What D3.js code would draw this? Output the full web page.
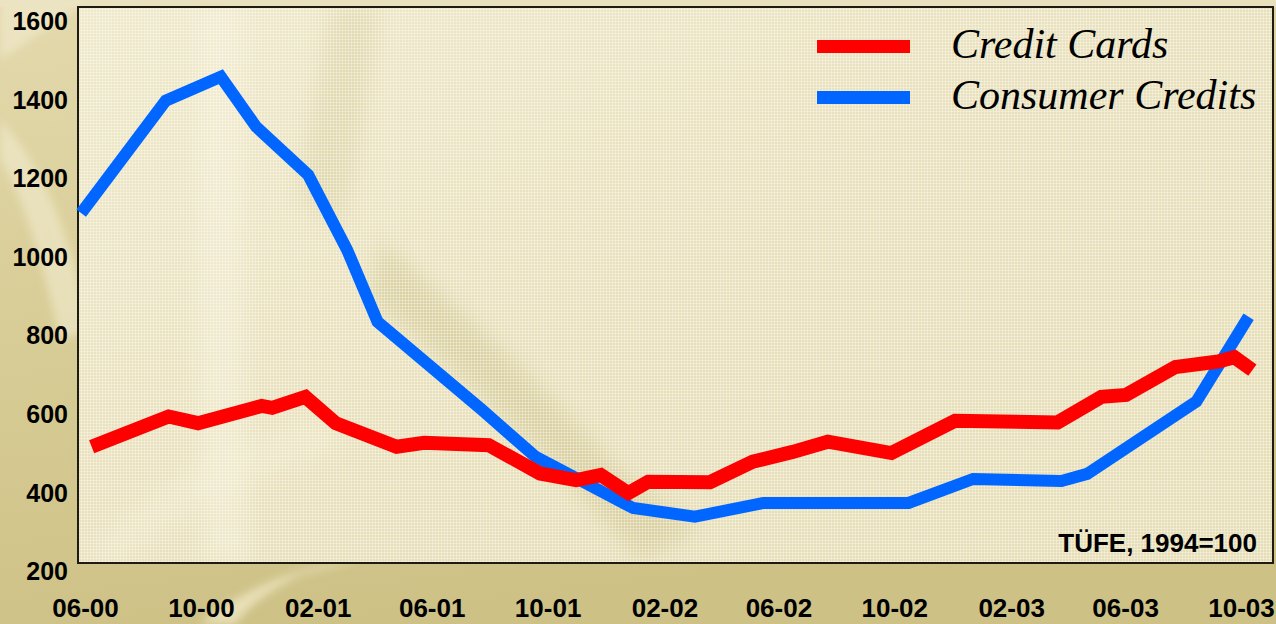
<!DOCTYPE html>
<html>
<head>
<meta charset="utf-8">
<script src="https://cdn.jsdelivr.net/npm/d3@7"></script>
<style>
  html, body { margin: 0; padding: 0; background: #d6cb95; }
  svg { display: block; }
</style>
</head>
<body>
<svg id="chart" width="1276" height="624"></svg>
<script>
// ---------------- DATA ----------------
const seriesNames = ["Credit Cards", "Consumer Credits"];

const creditCardDates = [
  "2000-06-08","2000-08-28","2000-09-28","2000-12-04","2000-12-15","2001-01-19",
  "2001-02-20","2001-04-25","2001-05-24","2001-07-31","2001-09-23","2001-10-31",
  "2001-11-26","2001-12-25","2002-01-15","2002-03-21","2002-05-05","2002-06-16",
  "2002-07-23","2002-09-28","2002-12-04","2003-03-22","2003-05-07","2003-06-02",
  "2003-07-24","2003-09-07","2003-09-24","2003-10-13"
];
const creditCardValues = [
  518, 595, 578, 622, 617, 645,
  578, 518, 528, 522, 450, 433,
  446, 400, 429, 428, 480, 505,
  531, 502, 584, 580, 645, 650,
  721, 735, 746, 713
];

const consumerCreditDates = [
  "2000-05-28","2000-08-25","2000-10-22","2000-11-28","2001-01-22","2001-03-04",
  "2001-04-05","2001-07-24","2001-09-18","2001-12-30","2002-03-05","2002-05-16",
  "2002-10-16","2002-12-23","2003-03-26","2003-04-22","2003-08-15","2003-10-09"
];
const consumerCreditValues = [
  1113, 1399, 1460, 1333, 1210, 1019,
  836, 612, 493, 362, 340, 375,
  375, 436, 431, 449, 633, 849
];

const yTickValues = [200, 400, 600, 800, 1000, 1200, 1400, 1600];
const xTickDates = ["2000-06-01","2000-10-01","2001-02-01","2001-06-01","2001-10-01",
  "2002-02-01","2002-06-01","2002-10-01","2003-02-01","2003-06-01","2003-10-01"];
const xTickLabels = ["06-00","10-00","02-01","06-01","10-01","02-02","06-02","10-02","02-03","06-03","10-03"];
const noteText = "TÜFE, 1994=100";

// ---------------- LAYOUT ----------------
const W = 1276, H = 624;
const frame = { x0: 78, y0: 7, x1: 1273, y1: 563 };
const parse = d3.timeParse("%Y-%m-%d");

const x = d3.scaleTime()
  .domain([parse("2000-06-01"), parse("2003-10-01")])
  .range([85, 1241]);
const y = d3.scaleLinear()
  .domain([200, 1600])
  .range([571.7, 21.7]);

const svg = d3.select("#chart");
const defs = svg.append("defs");

// background gradient
const bg = defs.append("linearGradient").attr("id", "bgGrad")
  .attr("x1", 0).attr("y1", 0).attr("x2", 0.25).attr("y2", 1);
bg.append("stop").attr("offset", "0%").attr("stop-color", "#e3d9ad");
bg.append("stop").attr("offset", "45%").attr("stop-color", "#d9ce98");
bg.append("stop").attr("offset", "100%").attr("stop-color", "#cdc186");

const pg = defs.append("linearGradient").attr("id", "plotGrad")
  .attr("x1", 0).attr("y1", 0).attr("x2", 1).attr("y2", 1);
pg.append("stop").attr("offset", "0%").attr("stop-color", "#efe8c9");
pg.append("stop").attr("offset", "50%").attr("stop-color", "#e8e0bb");
pg.append("stop").attr("offset", "100%").attr("stop-color", "#e6ddb6");

// fine grid texture
const pat = defs.append("pattern").attr("id", "grid")
  .attr("width", 3).attr("height", 3).attr("patternUnits", "userSpaceOnUse");
pat.append("rect").attr("x", 0).attr("y", 0).attr("width", 3).attr("height", 1)
  .attr("fill", "#ffffff").attr("opacity", 0.32);
pat.append("rect").attr("x", 0).attr("y", 0).attr("width", 1).attr("height", 3)
  .attr("fill", "#ffffff").attr("opacity", 0.32);

const blur = defs.append("filter").attr("id", "blur")
  .attr("x", "-20%").attr("y", "-20%").attr("width", "140%").attr("height", "140%");
blur.append("feGaussianBlur").attr("stdDeviation", 10);
const blur2 = defs.append("filter").attr("id", "blur2")
  .attr("x", "-20%").attr("y", "-20%").attr("width", "140%").attr("height", "140%");
blur2.append("feGaussianBlur").attr("stdDeviation", 4);

defs.append("clipPath").attr("id", "plotClip")
  .append("rect").attr("x", frame.x0).attr("y", frame.y0)
  .attr("width", frame.x1 - frame.x0).attr("height", frame.y1 - frame.y0);

// outer background
svg.append("rect").attr("width", W).attr("height", H).attr("fill", "url(#bgGrad)");
const deco = svg.append("g");
deco.append("path").attr("d", "M0,120 C40,160 70,230 90,330 L60,340 C40,250 20,190 0,160 Z")
  .attr("fill", "#f2ecd0").attr("opacity", 0.6).attr("filter", "url(#blur2)");
deco.append("path").attr("d", "M0,0 L90,0 C60,20 30,40 0,60 Z")
  .attr("fill", "#f0e9cb").attr("opacity", 0.7).attr("filter", "url(#blur2)");
deco.append("path").attr("d", "M200,624 C240,590 300,565 360,560 L300,575 C270,590 250,605 235,624 Z")
  .attr("fill", "#efe7c4").attr("opacity", 0.8).attr("filter", "url(#blur2)");
svg.append("rect").attr("x", 0).attr("y", 0).attr("width", W).attr("height", 7)
  .attr("fill", "#ebe4c3").attr("opacity", 0.8);

// plot area
const plotBg = svg.append("g").attr("clip-path", "url(#plotClip)");
plotBg.append("rect").attr("x", frame.x0).attr("y", frame.y0)
  .attr("width", frame.x1 - frame.x0).attr("height", frame.y1 - frame.y0)
  .attr("fill", "url(#plotGrad)");
plotBg.append("path")
  .attr("d", "M330,7 C320,80 300,150 300,200 L340,230 C360,160 370,80 380,7 Z")
  .attr("fill", "#cfc48d").attr("opacity", 0.35).attr("filter", "url(#blur)");
plotBg.append("path")
  .attr("d", "M380,240 C450,300 540,380 620,470 L700,530 L640,560 C560,470 470,380 370,300 Z")
  .attr("fill", "#c9bd82").attr("opacity", 0.45).attr("filter", "url(#blur)");
plotBg.append("path")
  .attr("d", "M200,7 L240,7 C245,200 240,380 250,563 L205,563 C195,380 200,200 200,7 Z")
  .attr("fill", "#f6f1da").attr("opacity", 0.45).attr("filter", "url(#blur)");
plotBg.append("path")
  .attr("d", "M80,563 C150,480 250,430 330,420 L340,450 C260,470 170,520 120,563 Z")
  .attr("fill", "#f3edd2").attr("opacity", 0.4).attr("filter", "url(#blur)");
plotBg.append("rect").attr("x", frame.x0).attr("y", frame.y0)
  .attr("width", frame.x1 - frame.x0).attr("height", frame.y1 - frame.y0)
  .attr("fill", "url(#grid)");

// frame
svg.append("rect").attr("x", frame.x0).attr("y", frame.y0)
  .attr("width", frame.x1 - frame.x0).attr("height", frame.y1 - frame.y0)
  .attr("fill", "none").attr("stroke", "#1d1b12").attr("stroke-width", 2);

// axes
const fontSans = "'Liberation Sans', Arial, Helvetica, sans-serif";
const yAxis = d3.axisLeft(y).tickValues(yTickValues).tickSize(0).tickPadding(10)
  .tickFormat(d3.format("d"));
const gy = svg.append("g").attr("transform", `translate(${frame.x0},0)`).call(yAxis);
gy.select(".domain").remove();
gy.selectAll("text").attr("font-family", fontSans).attr("font-size", 25)
  .attr("font-weight", "bold").attr("fill", "#000");

const xAxis = d3.axisBottom(x).tickValues(xTickDates.map(parse)).tickSize(0).tickPadding(36)
  .tickFormat((d, i) => xTickLabels[i]);
const gx = svg.append("g").attr("transform", `translate(0,${frame.y1})`).call(xAxis);
gx.select(".domain").remove();
gx.selectAll("text").attr("font-family", fontSans).attr("font-size", 26)
  .attr("font-weight", "bold").attr("fill", "#000");

// lines
const line = d3.line().x(d => x(d.date)).y(d => y(d.value));
const cc = creditCardDates.map((d, i) => ({ date: parse(d), value: creditCardValues[i] }));
const cons = consumerCreditDates.map((d, i) => ({ date: parse(d), value: consumerCreditValues[i] }));

svg.append("path").datum(cons).attr("d", line)
  .attr("fill", "none").attr("stroke", "#0066ff").attr("stroke-width", 12)
  .attr("stroke-linejoin", "miter").attr("stroke-miterlimit", 3).attr("stroke-linecap", "butt");
svg.append("path").datum(cc).attr("d", line)
  .attr("fill", "none").attr("stroke", "#ff0000").attr("stroke-width", 14)
  .attr("stroke-linejoin", "miter").attr("stroke-miterlimit", 3).attr("stroke-linecap", "butt");

// legend
const legendColors = ["#ff0000", "#0066ff"];
const legend = svg.append("g");
seriesNames.forEach((name, i) => {
  const cy = 46.5 + i * 51;
  legend.append("rect").attr("x", 817).attr("y", cy - 6.5).attr("width", 93).attr("height", 13)
    .attr("fill", legendColors[i]);
  legend.append("text").attr("x", 951).attr("y", cy + 11)
    .attr("font-family", "'Liberation Serif', 'Times New Roman', serif")
    .attr("font-style", "italic").attr("font-size", 42).attr("fill", "#000")
    .text(name);
});

// note
svg.append("text").attr("x", 1257).attr("y", 551.5).attr("text-anchor", "end")
  .attr("font-family", fontSans).attr("font-size", 26).attr("font-weight", "bold")
  .attr("fill", "#000").text(noteText);
</script>
</body>
</html>
